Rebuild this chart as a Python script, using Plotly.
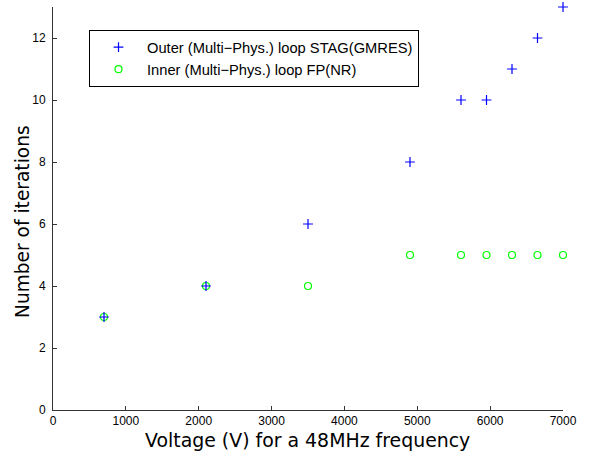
import plotly.graph_objects as go

voltage = [700, 2100, 3500, 4900, 5600, 5950, 6300, 6650, 7000]
outer_iters = [3, 4, 6, 8, 10, 10, 11, 12, 13]
inner_iters = [3, 4, 4, 5, 5, 5, 5, 5, 5]
x_ticks = [0, 1000, 2000, 3000, 4000, 5000, 6000, 7000]
y_ticks = [0, 2, 4, 6, 8, 10, 12]

fig = go.Figure()
fig.add_trace(go.Scatter(
    x=voltage, y=inner_iters, mode="markers", cliponaxis=False,
    name="Inner (Multi\u2212Phys.) loop FP(NR)",
    marker=dict(symbol="circle-open", size=7, color="#00ff00", line=dict(width=1.2, color="#00ff00")),
))
fig.add_trace(go.Scatter(
    x=voltage, y=outer_iters, mode="markers", cliponaxis=False,
    name="Outer (Multi\u2212Phys.) loop STAG(GMRES)",
    marker=dict(symbol="cross-thin", size=7, color="#0000ff", line=dict(width=1.2, color="#0000ff")),
))

tickfont = dict(family="Liberation Sans, Arial, sans-serif", size=12, color="black")
fig.update_layout(
    width=594, height=451,
    margin=dict(l=53, r=31, t=7, b=41),
    plot_bgcolor="white", paper_bgcolor="white",
    showlegend=True,
    legend=dict(
        x=0.0706, y=0.943, xanchor="left", yanchor="top",
        bordercolor="black", borderwidth=1, bgcolor="white",
        font=dict(family="Liberation Sans, Arial, sans-serif", size=14.7, color="black"),
        traceorder="reversed", itemwidth=47,
        tracegroupgap=0,
    ),
    xaxis=dict(
        range=[0, 7000], tickvals=x_ticks, showgrid=False, zeroline=False,
        showline=True, linecolor="#333", linewidth=1, automargin=False,
        ticks="inside", ticklen=4, tickcolor="#333",
        tickfont=tickfont,
    ),
    yaxis=dict(
        range=[0, 13], tickvals=y_ticks, showgrid=False, zeroline=False,
        showline=True, linecolor="#333", linewidth=1, automargin=False,
        ticks="inside", ticklen=4, tickcolor="#333", ticklabelstandoff=4,
        tickfont=tickfont,
    ),
    annotations=[
        dict(text="Voltage (V) for a 48MHz frequency", xref="paper", yref="paper",
             x=(307 - 53) / 510, y=-(440 - 410) / 403, xanchor="center", yanchor="middle",
             showarrow=False, font=dict(family="DejaVu Sans, sans-serif", size=18.9, color="black")),
        dict(text="Number of iterations", xref="paper", yref="paper", textangle=-90,
             x=-(53 - 22) / 510, y=(410 - 222) / 403, xanchor="center", yanchor="middle",
             showarrow=False, font=dict(family="DejaVu Sans, sans-serif", size=18.6, color="black")),
    ],
)
fig.write_html("out.html", config={"displayModeBar": False},
               post_script="document.body.style.margin='0';")
